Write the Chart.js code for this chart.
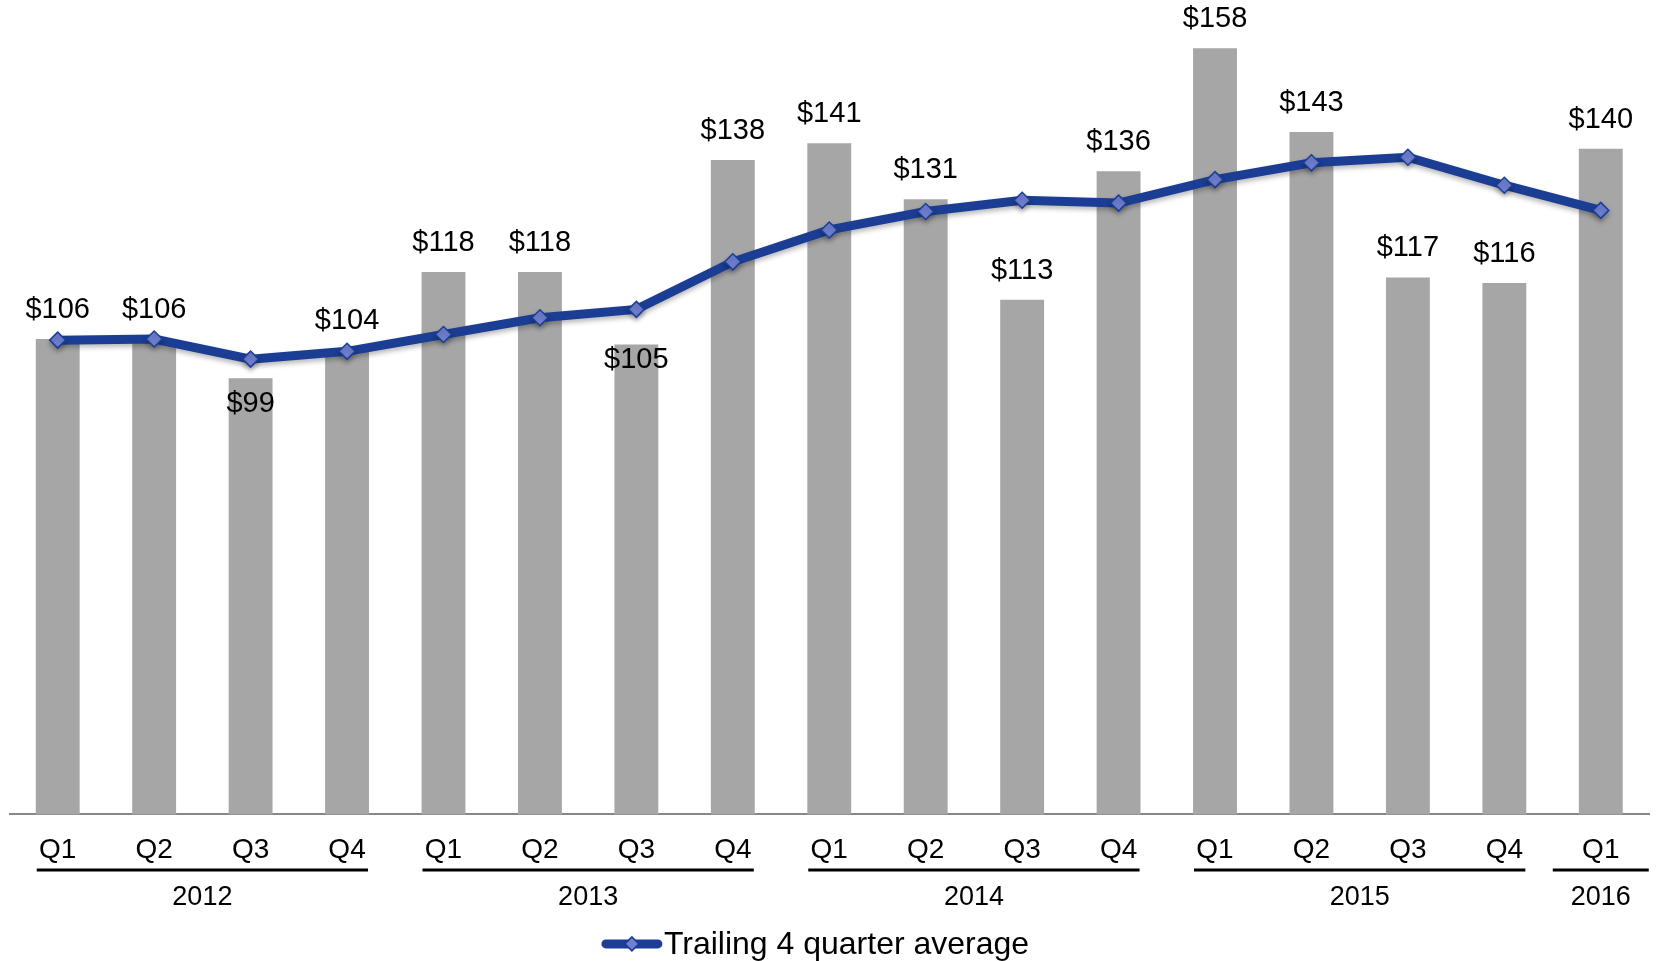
<!DOCTYPE html>
<html>
<head>
<meta charset="utf-8">
<title>Quarterly chart</title>
<script src="https://cdn.jsdelivr.net/npm/chart.js@4.4.0/dist/chart.umd.min.js"></script>
<style>
  html, body { margin: 0; padding: 0; background: #fff; }
  canvas { display: block; }
</style>
</head>
<body>
<canvas id="chart" width="1661" height="961"></canvas>
<script>
const quarters = ['Q1', 'Q2', 'Q3', 'Q4', 'Q1', 'Q2', 'Q3', 'Q4', 'Q1', 'Q2', 'Q3', 'Q4', 'Q1', 'Q2', 'Q3', 'Q4', 'Q1']
const years = ['2012', '2012', '2012', '2012', '2013', '2013', '2013', '2013',
               '2014', '2014', '2014', '2014', '2015', '2015', '2015', '2015', '2016']
const quarterValues = [106, 106, 99, 104, 118, 118, 105, 138, 141, 131, 113, 136, 158, 143, 117, 116, 140]
const trailingAvg = [105.8, 106, 102.4, 103.8, 106.8, 109.8, 111.3, 119.8, 125.5, 128.8, 130.8, 130.3, 134.5, 137.5, 138.5, 133.5, 129]
const legendLabel = 'Trailing 4 quarter average'

const FONT = '"Liberation Sans", Arial, Helvetica, sans-serif'
const LINE_BLUE = '#1B3E94'
const MARKER_FILL = '#7080D2'
const BAR_GRAY = '#A6A6A6'

// labels that sit inside the bar top instead of above it (index -> px below top)
const insideLabels = { 2: 26, 6: 15 }

const lineShadow = {
    id: 'lineShadow',
    beforeDatasetDraw(chart, args) {
        if (args.index !== 1) return
        const ctx = chart.ctx
        ctx.save()
        ctx.shadowColor = 'rgba(0,0,0,0.28)'
        ctx.shadowBlur = 5
        ctx.shadowOffsetY = 3
    },
    afterDatasetDraw(chart, args) {
        if (args.index !== 1) return
        chart.ctx.restore()
    }
}

const extras = {
    id: 'extras',
    afterDatasetsDraw(chart) {
        const ctx = chart.ctx
        const bars = chart.getDatasetMeta(0).data
        ctx.save()
        ctx.fillStyle = '#000'
        ctx.font = `29px ${FONT}`
        ctx.textAlign = 'center'
        ctx.textBaseline = 'middle'
        bars.forEach((bar, i) => {
            const dy = insideLabels[i] !== undefined ? insideLabels[i] : -29
            ctx.fillText('$' + quarterValues[i], bar.x, bar.y + dy)
        })
        ctx.restore()
    },
    afterDraw(chart) {
        const ctx = chart.ctx
        const x = chart.scales.x
        const area = chart.chartArea

        // year groups: underline + label
        let groups = []
        years.forEach((y, i) => {
            const last = groups[groups.length - 1]
            if (last && last.year === y) last.end = i
            else groups.push({ year: y, start: i, end: i })
        })
        ctx.save()
        ctx.strokeStyle = '#000'
        ctx.lineWidth = 3
        ctx.fillStyle = '#000'
        ctx.font = `27px ${FONT}`
        ctx.textAlign = 'center'
        ctx.textBaseline = 'middle'
        groups.forEach(g => {
            const x0 = x.getPixelForValue(g.start)
            const x1 = x.getPixelForValue(g.end)
            const pad = g.start === g.end ? 48 : 21
            ctx.beginPath()
            ctx.moveTo(x0 - pad, area.bottom + 55.5)
            ctx.lineTo(x1 + pad, area.bottom + 55.5)
            ctx.stroke()
            ctx.fillText(g.year, (x0 + x1) / 2, area.bottom + 83.5)
        })

        // legend
        ctx.font = `32px ${FONT}`
        const textW = ctx.measureText(legendLabel).width
        const blockW = 60 + 2 + textW
        const lx = chart.width / 2 - 15 - blockW / 2
        const ly = area.bottom + 129.5
        ctx.strokeStyle = LINE_BLUE
        ctx.lineWidth = 9
        ctx.lineCap = 'round'
        ctx.beginPath()
        ctx.moveTo(lx + 4, ly)
        ctx.lineTo(lx + 56, ly)
        ctx.stroke()
        ctx.beginPath()
        ctx.moveTo(lx + 30, ly - 7)
        ctx.lineTo(lx + 37, ly)
        ctx.lineTo(lx + 30, ly + 7)
        ctx.lineTo(lx + 23, ly)
        ctx.closePath()
        ctx.fillStyle = MARKER_FILL
        ctx.fill()
        ctx.lineWidth = 1.5
        ctx.stroke()
        ctx.fillStyle = '#000'
        ctx.textAlign = 'left'
        ctx.fillText(legendLabel, lx + 62, ly + 1)
        ctx.restore()
    }
}

const data = {
    labels: quarters,
    datasets: [{
        type: 'bar',
        label: 'Quarterly',
        data: quarterValues,
        backgroundColor: BAR_GRAY,
        borderWidth: 0,
        barPercentage: 0.455,
        categoryPercentage: 1,
        order: 2
    }, {
        type: 'line',
        label: legendLabel,
        data: trailingAvg,
        borderColor: LINE_BLUE,
        borderWidth: 9,
        pointStyle: 'rectRot',
        pointRadius: 8,
        pointBackgroundColor: MARKER_FILL,
        pointBorderColor: LINE_BLUE,
        pointBorderWidth: 1.5,
        tension: 0,
        order: 1
    }]
}

const config = {
    type: 'bar',
    data: data,
    options: {
        responsive: false,
        animation: false,
        layout: { padding: { left: 8, right: 12, top: 37, bottom: 75 } },
        plugins: {
            legend: { display: false },
            tooltip: { enabled: false }
        },
        scales: {
            y: {
                display: false,
                min: 21,
                max: 160
            },
            x: {
                grid: { display: false, drawTicks: false },
                border: { display: true, color: '#878787', width: 2 },
                ticks: {
                    color: '#000',
                    padding: 19,
                    font: { size: 28, family: FONT, lineHeight: 1.2 }
                }
            }
        }
    },
    plugins: [lineShadow, extras]
}

let ctx = document.querySelector('#chart').getContext('2d')
const myChart = new Chart(ctx, config)
</script>
</body>
</html>
